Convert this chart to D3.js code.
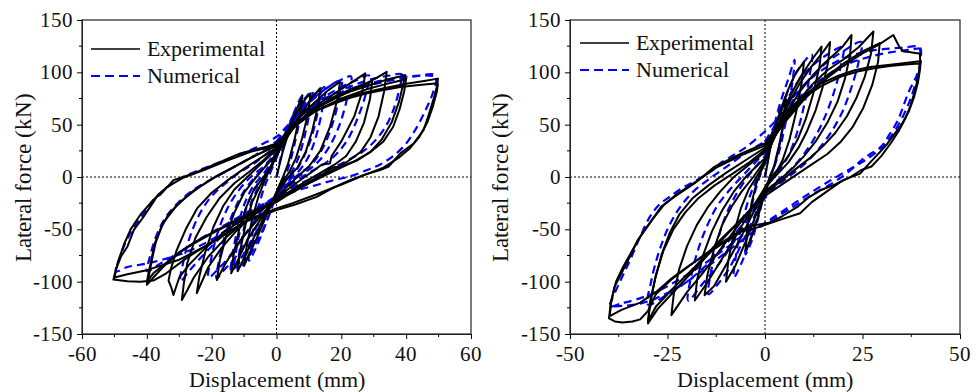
<!DOCTYPE html>
<html>
<head>
<meta charset="utf-8">
<script src="https://cdn.jsdelivr.net/npm/d3@7"></script>
<style>
  @font-face { font-family: "ChartSerif"; src: local("Liberation Serif"), local("LiberationSerif"), local("Tinos"), local("Times New Roman"); }
  body { margin: 0; background: #fff; }
  svg { display: block; }
  svg text { font-family: "ChartSerif", "Liberation Serif", "Tinos", "Times New Roman", serif !important; }
</style>
</head>
<body>
<svg id="chart" width="977" height="392"></svg>
<script>
// --- data ---
const forceTicks = [-150, -100, -50, 0, 50, 100, 150];
const leftDispTicks = [-60, -40, -20, 0, 20, 40, 60];
const rightDispTicks = [-50, -25, 0, 25, 50];
const seriesNames = ['Experimental', 'Numerical'];

// left specimen, experimental cycles [displacement mm, force kN]
const leftExp = [
  [[0,0],[2,25],[4,45],[6,63],[8,78],[7.2,60],[5.5,35],[3.5,12],[2,0],[0,-14],[-3,-36],[-6,-58],[-8.5,-74],[-10,-85],[-9.2,-66],[-7.5,-40],[-5.5,-18],[-3.5,-2],[-1.5,12],[0,22]],
  [[0,22],[3,42],[6,60],[9,75],[10.5,80],[9.8,62],[8,38],[6,18],[4,5],[2,-4],[0,-16],[-4,-40],[-8,-64],[-11,-84],[-12,-90],[-11.2,-70],[-9.5,-45],[-7.5,-24],[-5,-8],[-2.5,4],[0,20]],
  [[0,20],[4,44],[8,62],[11,76],[13.5,85],[12.8,68],[11,44],[9,24],[6.5,9],[4,1],[0,-16],[-4,-36],[-9,-60],[-12,-80],[-14,-92],[-13.2,-74],[-11.5,-50],[-9.5,-30],[-7,-12],[-4,0],[-1,14],[0,20]],
  [[0,20],[4,44],[8,60],[12,72],[16,83],[19.6,91],[18.8,74],[16.5,48],[13.5,25],[10,10],[7,2],[3,-10],[-2,-27],[-7,-45],[-12,-64],[-16,-84],[-18.4,-98.4],[-17.5,-80],[-15.5,-56],[-13,-34],[-10,-15],[-7,-3],[-4,8],[0,22]],
  [[0,22],[5,46],[10,63],[15,74],[20,84],[24,92],[27.4,99],[26.5,82],[24,58],[20,34],[17,20],[16.5,13],[14,12],[11,5],[6,-6],[0,-20],[-6,-34],[-12,-50],[-17,-68],[-21,-86],[-24.6,-111],[-23.8,-95],[-22,-72],[-19.5,-48],[-16.5,-28],[-13,-12],[-9,0],[-5,12],[0,26]],
  [[0,26],[6,50],[12,66],[18,77],[23,84],[27,89],[29.5,91],[28.8,74],[27,52],[24.5,34],[21.5,20],[18,12],[13,3],[7,-8],[0,-22],[-8,-38],[-15,-56],[-21,-76],[-25.5,-96],[-27.5,-108],[-29.2,-117.5],[-28.6,-102],[-27.5,-82],[-25,-58],[-21.5,-38],[-17.5,-20],[-13,-6],[-8,6],[-4,16],[0,28]],
  [[0,28],[6,50],[12,65],[18,75],[24,84],[28,90],[31,95],[34,100.5],[33.2,82],[31.5,58],[29,38],[26,24],[22,15],[17,6],[11,-4],[5,-14],[0,-22],[-8,-36],[-16,-52],[-22,-68],[-27,-84],[-30,-96],[-31.8,-112.7],[-32.4,-106],[-33.3,-99],[-32.6,-88],[-30.8,-70],[-28,-50],[-24.5,-30],[-20,-15],[-15,-3],[-10,8],[-5,18],[0,28]],
  [[0,28],[5,47],[10,62],[16,73],[22,81],[28,87],[34,93],[38,96],[39.7,97.5],[39.2,90],[37.8,72],[35.5,52],[32.5,36],[29,24],[25,16],[20,10],[17,9],[14,2],[8,-8],[0,-22],[-8,-34],[-16,-47],[-24,-60],[-30,-72],[-35,-86],[-38,-96],[-40,-103],[-39.4,-95],[-38.5,-80],[-37.3,-63],[-35.5,-48],[-33.2,-35],[-29,-22],[-24,-10],[-19,0],[-13,10],[-7,20],[0,30]],
  [[0,30],[6,49],[12,63],[20,75],[28,84],[34,89],[38,92],[40,94],[39.4,82],[38,65],[36,48],[33,34],[29,24],[24,15],[18,6],[10,-6],[3,-18],[0,-24],[-10,-38],[-20,-54],[-28,-68],[-34,-82],[-38,-92],[-40,-100],[-39.2,-88],[-37.6,-64],[-35,-44],[-31,-28],[-26,-14],[-20,-2],[-14,8],[-8,18],[0,30]],
  [[0,30],[6,50],[12,63],[18,71],[25,79],[32,84],[40,89],[46,92],[49.8,94],[49.6,88],[48.5,75],[47,60],[45.4,45],[42.3,32],[38.2,22.6],[34.6,10],[32,6.7],[27,2],[22.7,-3],[17,-11],[12.4,-19],[6,-26],[0,-31.5],[-9,-42],[-19,-60],[-28,-78],[-34,-92],[-38,-99],[-42,-100],[-46,-99.5],[-50.3,-98],[-49.5,-88],[-48,-76],[-46,-66.6],[-44,-50.6],[-41,-38],[-38,-24],[-37,-19],[-35.9,-17],[-33.5,-9],[-31.8,-3],[-25.6,3.5],[-18.4,13],[-11.2,22.6],[-3,29],[0,32],[3,42],[7.3,54],[12,63],[17.6,70],[23,76],[28,80],[33,83],[38.2,86],[44,88],[49.8,89.5]],
  [[49.8,89.5],[49.5,82],[48.3,68],[46.5,52],[44,38],[41,27],[37.5,18],[33,9],[28,3],[21,-6],[12,-17],[5,-25],[0,-30],[-9,-41],[-19.4,-62],[-30,-79],[-40,-89],[-46,-93],[-50,-96],[-49,-82],[-47,-64],[-45,-50],[-42,-36],[-38,-22],[-34,-10],[-29,-1],[-22,7],[-15,16],[-8,24],[-3,28],[0,31]]
];

// left specimen, numerical cycles
const leftNum = [
  [[0,0],[2,28],[4,50],[6,66],[8,78],[7.3,58],[5.6,32],[3.8,10],[2.5,0],[0,-16],[-2.5,-38],[-5,-58],[-7,-72],[-8.5,-80],[-7.8,-60],[-6,-34],[-4,-12],[-2.5,0],[0,18]],
  [[0,18],[3,44],[6,64],[9,76],[11,82],[10.3,64],[8.6,38],[6.6,17],[4.5,4],[2,-6],[0,-18],[-3,-42],[-6,-62],[-9,-78],[-12,-88],[-11.2,-68],[-9.5,-42],[-7.5,-22],[-5,-7],[-2.5,3],[0,20]],
  [[0,20],[3,42],[7,62],[11,75],[15,86],[14.3,68],[12.5,42],[10,20],[7,6],[4,-3],[0,-18],[-4,-40],[-8,-62],[-11,-78],[-14,-90],[-13.3,-70],[-11.8,-46],[-9.8,-25],[-7,-8],[-4,3],[0,22]],
  [[0,22],[4,48],[8,68],[12,80],[13.5,84],[12.8,64],[11,40],[8.5,20],[6,6],[3,-4],[0,-16],[-3,-35],[-6,-55],[-9,-72],[-12,-84],[-13,-88],[-12.2,-66],[-10.5,-42],[-8.4,-22],[-5.6,-6],[-2.5,5],[0,20]],
  [[0,20],[4,46],[8,64],[12,76],[16,86],[20,92],[19.2,74],[17,48],[14,26],[10.5,11],[7,3],[3,-8],[0,-20],[-4,-38],[-9,-60],[-13,-78],[-16.5,-90],[-18.5,-97],[-17.6,-78],[-15.5,-52],[-12.5,-28],[-9.5,-11],[-6,2],[-3,12],[0,26]],
  [[0,26],[4,48],[8,65],[12,77],[16,86],[20,93],[23,96],[22,78],[19.7,52],[16.5,30],[13,15],[9.5,6],[5,-3],[0,-16],[-5,-34],[-10,-56],[-14,-74],[-18,-88],[-21,-96],[-20,-76],[-17.8,-50],[-14.8,-28],[-11.5,-12],[-8,0],[-4,10],[0,24]],
  [[0,24],[5,50],[10,66],[15,77],[20,86],[25,93],[28.5,97],[27.6,80],[25,56],[22,36],[18.5,22],[14.5,12],[10,4],[5,-6],[0,-18],[-6,-30],[-12,-44],[-18,-60],[-23,-76],[-27,-90],[-29.7,-100],[-28.8,-82],[-26.8,-58],[-24,-37],[-20.5,-20],[-16.5,-8],[-12,3],[-6,15],[0,30]],
  [[0,30],[6,54],[12,69],[18,80],[24,88],[30,94],[35,97],[38.7,98],[38,86],[36.5,68],[34,50],[30.5,35],[26.5,24],[22,16],[17,8],[11,-1],[5,-10],[0,-20],[-8,-32],[-16,-46],[-24,-60],[-31,-74],[-36,-83],[-40,-90],[-39.2,-78],[-37.3,-58],[-34.5,-40],[-30.5,-25],[-25.5,-12],[-20,-2],[-14,8],[-7,20],[0,34]],
  [[0,34],[6,56],[12,70],[20,81],[28,89],[36,94],[44,97],[48.5,98],[49.3,94],[48.2,80],[46,64],[43,46],[40,32],[36,20],[32,12],[28,6.7],[22,0],[17.6,-3],[12,-8],[7.3,-12],[0,-20],[-10,-38],[-19,-58],[-29,-73],[-39,-82],[-46,-86],[-49.5,-90],[-48.2,-76],[-46.2,-60],[-43.5,-46],[-41,-35],[-38.5,-24],[-36,-15.6],[-32,-6],[-28.7,0.3],[-23.5,7],[-18.4,13],[-13,19.5],[-8,25.8],[-4,32],[0,38.5],[5,54],[12,70],[22,82],[32,90],[40,95],[46,97],[49.5,96]]
];

// right specimen, experimental cycles
const rightExp = [
  [[0,0],[1.5,30],[3,52],[4.5,66],[5.5,74],[5,56],[3.6,30],[2.3,10],[1.2,0],[0,-14],[-1.8,-38],[-3.5,-58],[-5,-70],[-4.6,-50],[-3.4,-24],[-2.2,-6],[-1,6],[0,14]],
  [[0,14],[2,40],[4,64],[6,84],[8,100],[10,110],[9.4,90],[8,62],[6.3,36],[4.5,16],[2.8,4],[1,-6],[0,-14],[-2.5,-38],[-5,-62],[-7.5,-84],[-10,-100],[-9.4,-80],[-8,-54],[-6.2,-30],[-4.2,-12],[-2.2,0],[0,14]],
  [[0,14],[3,46],[6,74],[9,95],[12,112],[14.5,124.6],[14,106],[12.4,80],[10.5,56],[8.4,36],[6,20],[3.5,8],[1.5,0],[0,-10],[-3,-34],[-6.5,-60],[-10,-84],[-13,-104],[-15.5,-113],[-14.8,-94],[-13,-68],[-11,-46],[-8.5,-28],[-6,-14],[-3,0],[0,16]],
  [[0,16],[3,44],[6,70],[9,90],[12,106],[15,120],[16.7,129],[16.2,110],[14.8,86],[13,64],[10.8,44],[8.6,28],[6,14],[3,2],[0,-10],[-4,-34],[-8,-60],[-12,-84],[-15,-102],[-18,-118],[-17.4,-98],[-15.8,-74],[-13.6,-52],[-11,-32],[-8,-14],[-4.5,2],[0,18]],
  [[0,18],[3,42],[6,64],[9,82],[12,96],[15,108],[18,118],[20,125],[22.2,135.7],[21.8,116],[20.5,94],[18.6,72],[16,52],[13,34],[10,20],[7,8],[4,-2],[0,-14],[-4,-32],[-8,-52],[-12,-72],[-16,-92],[-20,-110],[-24,-132],[-23.4,-112],[-22,-88],[-20,-66],[-17.5,-46],[-14.5,-28],[-11.5,-14],[-8,0],[-4,12],[0,24]],
  [[0,24],[4,48],[8,70],[12,88],[16,102],[20,112],[24,124],[27.8,139],[27.2,118],[25.6,96],[23.5,76],[21,58],[18,42],[15,30],[11.5,18],[8,8],[4,-4],[0,-16],[-5,-36],[-10,-56],[-15,-76],[-20,-96],[-24,-112],[-27.5,-126],[-30,-140],[-29.5,-122],[-28.2,-98],[-26.5,-74],[-24.5,-54],[-22,-36],[-18.5,-20],[-14.5,-8],[-10,4],[-5,16],[0,28]],
  [[0,28],[5,54],[10,76],[15,94],[20,108],[25,120],[29.4,128],[29,110],[27.5,88],[25.2,66],[22.5,48],[19.5,34],[16,22],[12,12],[8,2],[4,-8],[0,-18],[-6,-40],[-12,-62],[-18,-86],[-24,-108],[-28,-124],[-30,-138],[-29.4,-118],[-28,-94],[-26,-70],[-23.5,-50],[-20.5,-34],[-17,-20],[-12.9,-8],[-8,4],[-4,14],[0,26]],
  [[0,26],[5,52],[10,74],[15,92],[20,106],[25,118],[29,126],[32.9,135.7],[34.5,124],[35.5,120],[37,119.5],[38.5,118.5],[39.7,118],[39.8,110],[39.3,96],[38.4,82],[37.3,68],[36,56],[34.3,44],[32.2,32],[29.8,20],[27.3,10],[24.7,6.7],[22.1,0.3],[18,-7],[14.4,-12.4],[11,-20],[8.5,-28],[4.2,-38],[0.8,-44],[-3,-46],[-6,-50.6],[-11.2,-63],[-15.5,-74],[-19.7,-85.7],[-24,-98],[-28,-112],[-30,-128],[-32,-136],[-34,-138],[-36.5,-139],[-38.5,-138],[-40,-135],[-39.6,-122],[-38.6,-105],[-36.8,-92],[-34.5,-75],[-32.6,-60],[-29.5,-44],[-26.6,-28.3],[-23.2,-18.8],[-18,-6],[-12.9,10],[-6,22.6],[0,32],[3,48],[5.9,64],[10,78],[14.4,89.5],[19,97],[23,102],[27,105],[31.5,107],[36,109],[39.7,110.5]],
  [[39.7,110.5],[39.8,104],[39.2,90],[38.2,76],[36.8,62],[35,50],[33,40],[31,30],[28.5,20],[26.5,12],[24.4,3.2],[20,-3],[15.8,-14],[12,-24],[9,-34.6],[3.8,-41],[-1.3,-47.5],[-6,-52],[-11,-64],[-16,-76],[-20,-86],[-24,-97],[-28,-110],[-32,-120],[-36.8,-127],[-39.8,-133],[-39.4,-118],[-38.2,-100],[-36.4,-86],[-34,-70],[-31.5,-54],[-28.8,-40],[-26,-27],[-22.5,-16],[-17.5,-4],[-12.5,9],[-6,21],[0,30],[3,46],[6,62],[10,76],[14.5,87],[19.5,96],[24,101],[28,104],[32,106],[36,107.5],[39.5,108.5]]
];

// right specimen, numerical cycles
const rightNum = [
  [[0,0],[1.5,32],[3,56],[4.5,70],[5.5,78],[5,58],[3.8,32],[2.5,12],[1.4,0],[0,-14],[-1.8,-40],[-3.5,-62],[-5,-74],[-4.5,-52],[-3.3,-26],[-2.1,-8],[-1,4],[0,14]],
  [[0,14],[2,44],[4,72],[6,94],[7.6,112],[7,90],[5.6,58],[4,30],[2.6,12],[1.2,0],[0,-12],[-2,-38],[-4,-62],[-6,-82],[-8,-96],[-7.4,-74],[-6,-46],[-4.4,-24],[-2.8,-8],[-1.2,4],[0,16]],
  [[0,16],[2.5,46],[5,74],[7.5,96],[10,110],[12,117],[11.4,96],[10,68],[8.2,42],[6.2,22],[4,8],[1.8,-2],[0,-14],[-3,-40],[-6,-64],[-9,-86],[-12,-102],[-14.5,-112],[-13.8,-90],[-12.2,-62],[-10.4,-40],[-8.2,-22],[-5.6,-6],[-2.8,8],[0,20]],
  [[0,20],[3,50],[6,76],[9,94],[12,106],[16,117],[20,124],[19.3,104],[17.6,80],[15.2,56],[12.5,36],[9.6,20],[6.5,7],[3,-4],[0,-16],[-4,-38],[-8,-62],[-12,-84],[-16,-102],[-19.7,-118],[-19,-96],[-17.2,-70],[-15,-48],[-12.3,-28],[-9,-12],[-5,4],[0,24]],
  [[0,24],[4,52],[8,78],[12,96],[16,110],[20,120],[24.7,129],[24,110],[22.2,86],[19.8,62],[16.8,42],[13.6,26],[10,12],[6,0],[2.5,-10],[0,-20],[-5,-42],[-10,-64],[-15,-84],[-20,-100],[-25,-112],[-30,-122],[-29.2,-100],[-27.4,-74],[-25,-50],[-22,-30],[-18.4,-14],[-14,-1],[-9,12],[-4.5,24],[0,34]],
  [[0,34],[3,52],[6,70],[10,88],[15,103],[20,113],[25,119],[30,122],[35,123.5],[39.7,124],[40,116],[39.2,100],[36.7,80],[34.1,54.5],[31.8,40],[29.8,29],[27,22],[24.7,16],[22,6.7],[17.9,-4.5],[12.7,-15.6],[5.9,-31.5],[0,-44],[-5,-54],[-10,-68],[-16,-84],[-22,-98],[-28,-110],[-33,-117],[-37,-121],[-40,-124],[-39.7,-120.8],[-37.2,-100],[-34.6,-79.4],[-32,-57],[-29.5,-37.9],[-27,-26],[-24.4,-18.8],[-21,-10],[-17.6,-3.2],[-13.4,6.7],[-11.5,13],[-8,21],[-4.7,29],[0.4,45],[5,62],[10,80],[15,95],[20,106],[26,114],[32,119],[37,121.5],[39.7,123]],
  [[39.7,123],[40,112],[38.8,92],[36.6,68],[33.6,46],[30.4,30],[26.5,18],[22,8],[16,-5],[10,-19],[4,-34],[0,-44],[-10,-72],[-20,-100],[-28,-116],[-32,-121],[-36,-123],[-40,-124]]
];

// --- drawing ---
const FONT = '"ChartSerif", "Liberation Serif", "Tinos", "Times New Roman", serif';
const svg = d3.select('#chart');

const panels = [
  { left: 82, right: 471, xDomain: [-60, 60], xTicks: leftDispTicks, xMinor: 10,
    exp: leftExp, num: leftNum, legX: 91, legY: 49, titleX: 24 },
  { left: 570, right: 960, xDomain: [-50, 50], xTicks: rightDispTicks, xMinor: 12.5,
    exp: rightExp, num: rightNum, legX: 580, legY: 43, titleX: 501 }
];
const plotTop = 20, plotBottom = 334;

// plain text helper, styled the same way everywhere
function label(x, y, str, size, anchor) {
  return svg.append('text').attr('x', x).attr('y', y)
    .attr('text-anchor', anchor || 'start')
    .attr('font-family', FONT).attr('font-size', size).attr('fill', '#111')
    .style('font-family', FONT)
    .text(str);
}

panels.forEach(p => {
  const x = d3.scaleLinear().domain(p.xDomain).range([p.left, p.right]);
  const y = d3.scaleLinear().domain([-150, 150]).range([plotBottom, plotTop]);
  const g = svg.append('g');

  const clipId = 'clip' + p.left;
  svg.append('clipPath').attr('id', clipId)
    .append('rect').attr('x', p.left).attr('y', plotTop)
    .attr('width', p.right - p.left).attr('height', plotBottom - plotTop);

  // zero lines
  g.append('line').attr('x1', x(0)).attr('x2', x(0)).attr('y1', plotTop).attr('y2', plotBottom)
    .attr('stroke', '#000').attr('stroke-width', 1).attr('stroke-dasharray', '2,2');
  g.append('line').attr('x1', p.left).attr('x2', p.right).attr('y1', y(0)).attr('y2', y(0))
    .attr('stroke', '#000').attr('stroke-width', 1).attr('stroke-dasharray', '2,2');

  const plot = g.append('g').attr('clip-path', `url(#${clipId})`);
  const numLine = d3.line().x(d => x(d[0])).y(d => y(d[1])).curve(d3.curveCatmullRom.alpha(0.5));
  const expLine = d3.line().x(d => x(d[0])).y(d => y(d[1])).curve(d3.curveLinear);

  plot.selectAll('path.num').data(p.num).enter().append('path')
    .attr('class', 'num').attr('d', numLine).attr('fill', 'none')
    .attr('stroke', '#0000ff').attr('stroke-width', 2.2).attr('stroke-dasharray', '8,5');
  plot.selectAll('path.exp').data(p.exp).enter().append('path')
    .attr('class', 'exp').attr('d', expLine).attr('fill', 'none')
    .attr('stroke', '#000').attr('stroke-width', 2).attr('stroke-linejoin', 'round');

  // frame
  g.append('rect').attr('x', p.left).attr('y', plotTop)
    .attr('width', p.right - p.left).attr('height', plotBottom - plotTop)
    .attr('fill', 'none').attr('stroke', '#222').attr('stroke-width', 1.2);

  // axes: ticks from d3, labels as plain styled text
  const xa = g.append('g').attr('transform', `translate(0,${plotBottom})`)
    .call(d3.axisBottom(x).tickValues(p.xTicks).tickSize(5).tickFormat(''));
  xa.selectAll('line.minor').data(d3.range(p.xDomain[0] + p.xMinor, p.xDomain[1], p.xMinor * 2))
    .enter().append('line')
    .attr('x1', d => x(d)).attr('x2', d => x(d)).attr('y1', 0).attr('y2', 3).attr('stroke', '#000');

  const ya = g.append('g').attr('transform', `translate(${p.left},0)`)
    .call(d3.axisLeft(y).tickValues(forceTicks).tickSize(5).tickFormat(''));
  ya.selectAll('line.minor').data(d3.range(-125, 150, 50)).enter().append('line')
    .attr('x1', 0).attr('x2', -3).attr('y1', d => y(d)).attr('y2', d => y(d)).attr('stroke', '#000');

  [xa, ya].forEach(a => {
    a.attr('font-family', FONT);
    a.select('.domain').attr('stroke', '#222');
    a.selectAll('.tick line').attr('stroke', '#000');
  });

  p.xTicks.forEach(v => label(x(v), 361, v < 0 ? '-' + Math.abs(v) : String(v), 21, 'middle'));
  forceTicks.forEach(v => label(p.left - 9, y(v) + 7, v < 0 ? '-' + Math.abs(v) : String(v), 21, 'end'));

  // axis titles
  label((p.left + p.right) / 2, 387, 'Displacement (mm)', 22, 'middle');
  label(0, 0, 'Lateral force (kN)', 23, 'middle')
    .attr('transform', `translate(${p.titleX + 7},${(plotTop + plotBottom) / 2}) rotate(-90)`);

  // legend
  g.append('line').attr('x1', p.legX).attr('x2', p.legX + 49).attr('y1', p.legY).attr('y2', p.legY)
    .attr('stroke', '#000').attr('stroke-width', 1.5);
  g.append('line').attr('x1', p.legX).attr('x2', p.legX + 49).attr('y1', p.legY + 27).attr('y2', p.legY + 27)
    .attr('stroke', '#0000ff').attr('stroke-width', 2).attr('stroke-dasharray', '9,5');
  seriesNames.forEach((name, i) => label(p.legX + 56, p.legY + i * 27 + 7, name, 22));
});
</script>
</body>
</html>
